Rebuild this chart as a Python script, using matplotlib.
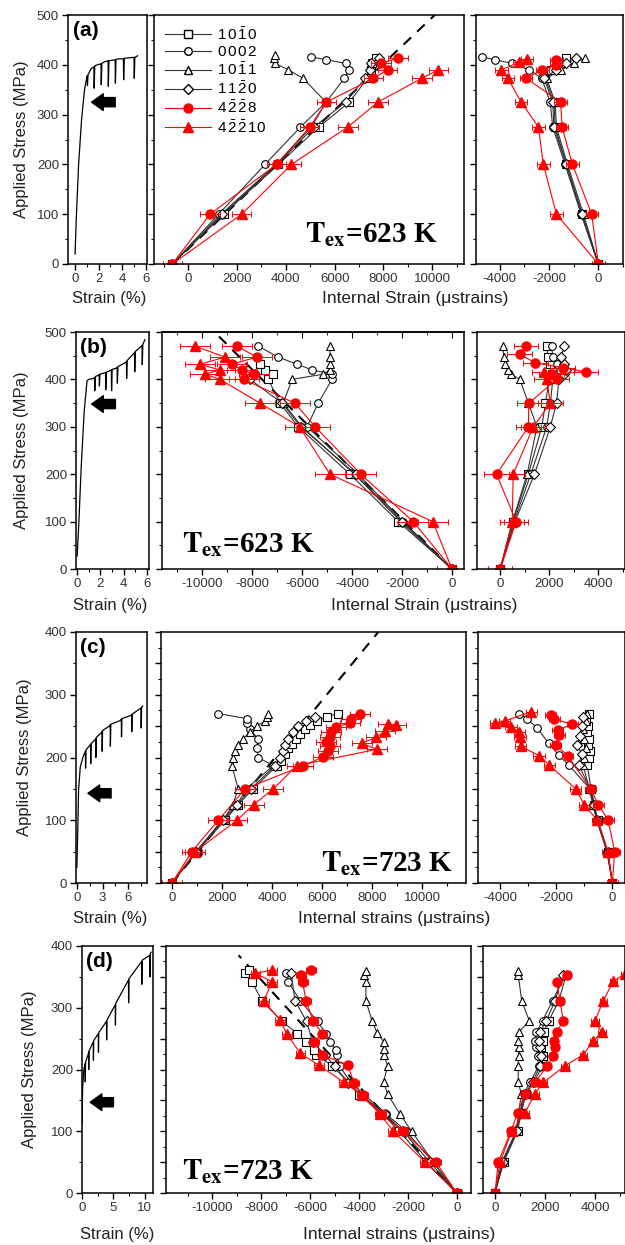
import matplotlib
matplotlib.use('Agg')
import matplotlib.pyplot as plt
from matplotlib.lines import Line2D
from matplotlib.ticker import MultipleLocator

plt.rcParams['font.family'] = ['Liberation Sans', 'DejaVu Sans']
plt.rcParams['axes.unicode_minus'] = False
plt.rcParams['mathtext.fontset'] = 'stix'
plt.rcParams['axes.linewidth'] = 1.1

# ---------------- (a) Tex = 623 K ----------------
a_curve_x = [0, 0.1, 0.3, 0.55, 0.8, 1.0, 1.03, 1.05, 1.1, 1.35, 1.6, 1.62, 1.67, 1.9, 2.2, 2.22, 2.27,
             2.5, 2.8, 2.82, 2.87, 3.1, 3.4, 3.42, 3.47, 3.8, 4.1, 4.12, 4.17, 4.6, 5.0, 5.02, 5.07, 5.3]
a_curve_y = [20, 90, 200, 290, 350, 375, 378, 358, 380, 392, 396, 353, 398, 400, 402, 360, 403,
             406, 408, 357, 408, 409, 410, 363, 411, 412, 412, 370, 413, 414, 415, 373, 415, 418]
a_fit_x = [-650, 10100]
a_fit_y = [0, 500]

a_lvl = [0, 100, 200, 275, 325, 373, 390, 403, 413]
a_mid_1010 = [-650, 1450, 3700, 5350, 6600, 7350, 7500, 7550, 7700]
a_mid_0002_y = [0, 100, 200, 275, 325, 373, 390, 403, 410, 416]
a_mid_0002 = [-650, 1250, 3150, 4600, 5650, 6400, 6600, 6450, 5650, 5050]
a_mid_1011_y = [0, 100, 200, 275, 325, 373, 390, 403, 413, 420]
a_mid_1011 = [-650, 1350, 3600, 5050, 5650, 4700, 4100, 3550, 3500, 3550]
a_mid_1120 = [-650, 1400, 3650, 5150, 6450, 7250, 7450, 7500, 7800]
a_mid_4228 = [-650, 900, 3620, 4980, 5660, 7590, 8170, 7900, 8590]
a_mid_42210_y = [0, 100, 200, 275, 325, 373, 390]
a_mid_42210 = [-650, 2190, 4230, 6540, 7770, 9575, 10250]

a_rt_1010 = [0, -650, -1300, -1750, -1800, -2150, -1900, -1500, -1300]
a_rt_0002 = [0, -700, -1350, -1850, -1950, -2300, -2800, -3500, -4200, -4700]
a_rt_1011 = [0, -600, -1250, -1700, -1750, -2100, -1500, -1000, -550]
a_rt_1120 = [0, -680, -1300, -1800, -1850, -2200, -1700, -1300, -900]
a_rt_4228_y = [0, 100, 200, 275, 325, 373, 390, 400, 410]
a_rt_4228 = [0, -270, -1050, -1470, -1530, -2930, -2270, -1730, -1700]
a_rt_42210_y = [0, 100, 200, 275, 325, 373, 390, 405, 412]
a_rt_42210 = [0, -1700, -2230, -2430, -3130, -3670, -3930, -3200, -2900]

# ---------------- (b) Tex = 623 K ----------------
b_curve_x = [0, 0.15, 0.35, 0.6, 0.85, 1.0, 1.4, 1.5, 1.52, 1.57, 1.85, 1.9, 1.92, 1.97, 2.4, 2.45, 2.47,
             2.52, 2.95, 2.97, 3.02, 3.4, 3.45, 3.47, 3.52, 4.2, 4.25, 4.27, 4.32, 4.9, 4.95, 4.97, 5.02,
             5.55, 5.6, 5.62, 5.67, 5.85]
b_curve_y = [27, 100, 215, 330, 397, 400, 402, 404, 376, 406, 409, 410, 386, 411, 414, 415, 378,
             415, 420, 376, 421, 424, 425, 392, 427, 436, 438, 402, 440, 455, 457, 416, 459,
             470, 472, 431, 474, 484]
b_fit_x = [0, -9500]
b_fit_y = [0, 500]

b_lvl = [0, 100, 200, 300, 350, 400, 411, 420, 432, 447, 470]
b_mid_1010_y = [0, 100, 200, 300, 350, 400, 411, 420, 432]
b_mid_1010 = [0, -2150, -4080, -6150, -6880, -7350, -7150, -7480, -7680]
b_mid_0002 = [0, -1950, -3750, -5800, -5350, -4800, -4800, -5600, -6200, -6950, -7750]
b_mid_1011 = [0, -2050, -3900, -6000, -6750, -6400, -5150, -4900, -4880, -4880, -4880]
b_mid_1120_y = [0, 100, 200, 300, 350, 400, 411, 420]
b_mid_1120 = [0, -2000, -3850, -6050, -6800, -8080, -7900, -8200]
b_mid_4228 = [0, -1550, -3650, -5470, -6290, -8330, -7930, -8400, -8810, -7810, -8590]
b_mid_42210 = [0, -770, -4880, -6100, -7680, -9280, -9880, -9300, -10080, -9080, -10270]

b_rt_1010 = [0, 520, 1150, 1700, 1850, 2000, 2100, 2200, 2050, 1950, 1900]
b_rt_0002 = [0, 560, 1250, 1900, 2050, 2150, 2350, 2450, 2300, 2150, 2100]
b_rt_1011 = [0, 500, 1100, 1500, 1150, 800, 450, 300, 200, 150, 100]
b_rt_1120 = [0, 600, 1400, 2050, 2300, 2400, 2600, 2700, 2600, 2500, 2600]
b_rt_4228_y = [0, 100, 200, 300, 350, 400, 411, 416, 425, 435, 453, 471]
b_rt_4228 = [0, 650, -150, 1150, 1170, 2300, 2100, 3500, 2550, 1440, 790, 1060]
b_rt_42210_y = [0, 100, 200, 300, 350, 400, 416]
b_rt_42210 = [0, 490, 530, 1350, 2050, 1900, 1800]

# ---------------- (c) Tex = 723 K ----------------
c_curve_x = [0, 0.1, 0.2, 0.4, 0.7, 1.0, 1.02, 1.07, 1.5, 1.6, 1.62, 1.67, 2.1, 2.2, 2.22, 2.27, 2.9,
             2.94, 2.96, 3.01, 3.8, 3.9, 3.92, 3.97, 5.1, 5.2, 5.22, 5.27, 6.3, 6.4, 6.42, 6.47,
             7.4, 7.5, 7.52, 7.57, 7.7]
c_curve_y = [25, 80, 148, 185, 200, 210, 183, 212, 219, 221, 190, 222, 228, 230, 200, 232, 240,
             242, 210, 243, 250, 252, 218, 253, 259, 261, 233, 262, 267, 268, 241, 269,
             278, 279, 247, 280, 282]
c_fit_x = [0, 8250]
c_fit_y = [0, 400]

c_mid_1010_y = [0, 50, 100, 125, 150, 187, 195, 205, 215, 222, 230, 238, 245, 252, 258, 265, 270]
c_mid_1010 = [0, 990, 2120, 2650, 3250, 4190, 4350, 4500, 4650, 4800, 4950, 5100, 5300, 5500, 5800, 6200, 6650]
c_mid_0002_y = [0, 50, 100, 125, 150, 187, 200, 215, 230, 245, 255, 262, 270]
c_mid_0002 = [0, 990, 1990, 2600, 2970, 4050, 3450, 3400, 3450, 3100, 3000, 2990, 1850]
c_mid_1011_y = [0, 50, 100, 125, 150, 187, 200, 210, 220, 230, 240, 250, 258, 265, 270]
c_mid_1011 = [0, 950, 2050, 2430, 2650, 2390, 2450, 2500, 2650, 2850, 3100, 3390, 3720, 3800, 3850]
c_mid_1120_y = [0, 50, 100, 125, 150, 187, 200, 210, 220, 230, 240, 250, 258, 265]
c_mid_1120 = [0, 970, 2050, 2600, 3150, 4120, 4300, 4420, 4500, 4650, 4850, 5050, 5350, 5700]
c_mid_4228_y = [0, 50, 100, 150, 187, 201, 210, 218, 225, 232, 240, 248, 255, 262, 270]
c_mid_4228 = [0, 790, 1850, 2920, 5250, 6050, 6250, 6300, 6150, 6300, 6350, 6550, 7100, 7150, 7500]
c_mid_42210_y = [0, 50, 100, 125, 150, 187, 213, 223, 232, 242, 251, 254]
c_mid_42210 = [0, 930, 2600, 3270, 4050, 4990, 8190, 7590, 8160, 8520, 8960, 8650]

c_rt_1010_y = [0, 50, 100, 125, 150, 188, 200, 210, 220, 230, 240, 250, 260, 270]
c_rt_1010 = [0, -160, -520, -640, -760, -900, -850, -800, -870, -850, -900, -880, -950, -850]
c_rt_0002_y = [0, 50, 100, 125, 150, 188, 204, 223, 247, 262, 270]
c_rt_0002 = [0, -180, -550, -680, -800, -1560, -1920, -2280, -2690, -3050, -3350]
c_rt_1011_y = [0, 50, 100, 125, 150, 188, 200, 215, 230, 245, 258, 270]
c_rt_1011 = [0, -200, -560, -700, -820, -1050, -1000, -950, -1000, -1050, -950, -900]
c_rt_1120_y = [0, 50, 100, 125, 150, 188, 205, 220, 235, 250, 265]
c_rt_1120 = [0, -170, -540, -660, -790, -1200, -1100, -1250, -1150, -1100, -1050]
c_rt_4228_y = [0, 50, 100, 125, 150, 203, 220, 236, 244, 253, 261, 268]
c_rt_4228 = [0, 80, -150, -500, -780, -1600, -2020, -1900, -1950, -1430, -2080, -2200]
c_rt_42210_y = [0, 50, 100, 125, 150, 188, 203, 218, 233, 241, 249, 255, 258, 273]
c_rt_42210 = [0, -170, -540, -1010, -1310, -2260, -2620, -3280, -3300, -3330, -3620, -4180, -3850, -2900]

# ---------------- (d) Tex = 723 K ----------------
d_curve_x = [0, 0.1, 0.3, 0.5, 0.52, 0.57, 1.0, 1.05, 1.07, 1.12, 1.8, 1.82, 1.87, 2.6, 2.62, 2.67,
             3.9, 3.92, 3.97, 5.3, 5.32, 5.37, 7.4, 7.42, 7.47, 9.5, 9.52, 9.57, 10.8, 10.82, 10.87, 11.0]
d_curve_y = [110, 170, 200, 210, 180, 212, 225, 228, 200, 230, 245, 215, 247, 258, 228, 260,
             278, 248, 280, 305, 272, 307, 345, 308, 347, 375, 338, 377, 385, 350, 387, 390]
d_fit_x = [0, -8930]
d_fit_y = [0, 385]

d_mid_1010_y = [0, 50, 100, 128, 159, 178, 206, 224, 232, 245, 258, 278, 311, 342, 356, 361]
d_mid_1010 = [0, -1250, -2350, -3030, -4000, -4400, -5100, -5770, -5850, -6180, -6530, -7150, -7970, -8380, -8650, -8500]
d_mid_0002_y = [0, 50, 100, 128, 159, 178, 206, 224, 232, 245, 258, 278, 311, 342, 356]
d_mid_0002 = [0, -970, -2070, -2890, -3780, -4330, -4800, -4900, -4950, -5200, -5350, -5700, -6400, -6900, -7000]
d_mid_1011_y = [0, 50, 100, 128, 160, 180, 205, 224, 234, 245, 259, 279, 311, 342, 353, 359]
d_mid_1011 = [0, -960, -1850, -2330, -2830, -3000, -2830, -2990, -3000, -2990, -3260, -3470, -3720, -3720, -3800, -3720]
d_mid_1120_y = [0, 50, 100, 128, 159, 178, 206, 224, 245, 278, 311, 356]
d_mid_1120 = [0, -1100, -2200, -2950, -3900, -4450, -5000, -5400, -5900, -6150, -6620, -6780]
d_mid_4228_y = [0, 50, 100, 128, 159, 178, 207, 224, 245, 258, 278, 311, 342, 353, 361]
d_mid_4228 = [0, -850, -2200, -3100, -3850, -4200, -4470, -5500, -5830, -5500, -5870, -6170, -6310, -6380, -5970]
d_mid_42210_y = [0, 50, 100, 128, 159, 179, 207, 226, 257, 280, 311, 342, 356, 361]
d_mid_42210 = [0, -1300, -2600, -3150, -3900, -4610, -5650, -6400, -6950, -7230, -7900, -7560, -8240, -7560]

d_rt_lvl = [0, 50, 100, 130, 161, 179, 206, 222, 237, 246, 260, 279, 311, 353]
d_rt_1010 = [0, 350, 900, 1050, 1250, 1550, 1900, 1900, 1850, 1900, 1950, 2150, 2550, 2850]
d_rt_0002 = [0, 300, 850, 1000, 1150, 1400, 1750, 1700, 1650, 1600, 1650, 1900, 2300, 2800]
d_rt_1011_y = [0, 50, 100, 130, 161, 179, 206, 222, 237, 246, 260, 279, 311, 353, 360]
d_rt_1011 = [0, 270, 850, 950, 1050, 930, 930, 950, 950, 930, 950, 1370, 1070, 930, 930]
d_rt_1120 = [0, 320, 870, 1020, 1200, 1500, 1800, 1850, 1800, 1750, 1800, 2050, 2400, 2700]
d_rt_4228_y = [0, 50, 100, 130, 161, 179, 205, 222, 237, 246, 260, 279, 311, 342, 353]
d_rt_4228 = [0, 130, 640, 900, 1200, 1600, 2070, 2330, 2400, 2350, 2470, 2730, 2600, 2470, 2870]
d_rt_42210_y = [0, 50, 100, 130, 161, 179, 206, 224, 246, 260, 279, 311, 343, 355]
d_rt_42210 = [0, 200, 670, 1200, 1600, 1930, 2800, 3530, 3930, 4270, 4000, 4330, 4730, 5200]

keys = ['1010', '0002', '1011', '1120', '4228', '42210']
labels = [r'$\mathregular{1\,0\,\bar{1}\,0}$', r'$\mathregular{0\,0\,0\,2}$',
          r'$\mathregular{1\,0\,\bar{1}\,1}$', r'$\mathregular{1\,1\,\bar{2}\,0}$',
          r'$\mathregular{4\,\bar{2}\,\bar{2}\,8}$', r'$\mathregular{4\,\bar{2}\,\bar{2}\,10}$']
marks = {'1010': 's', '0002': 'o', '1011': '^', '1120': 'D', '4228': 'o', '42210': '^'}

fig = plt.figure(figsize=(6.25, 12.45), dpi=100)
W, H = 625.0, 1245.0


def box(x0, x1, top, bot):
    return fig.add_axes([x0 / W, 1 - bot / H, (x1 - x0) / W, (bot - top) / H])


def setup(ax, xlim, ylim, xmaj, xmin, ymaj, ymin, ylab=False):
    ax.set_xlim(xlim)
    ax.set_ylim(ylim)
    ax.xaxis.set_major_locator(MultipleLocator(xmaj))
    ax.xaxis.set_minor_locator(MultipleLocator(xmin))
    ax.yaxis.set_major_locator(MultipleLocator(ymaj))
    ax.yaxis.set_minor_locator(MultipleLocator(ymin))
    ax.tick_params(which='major', length=4, width=1, labelsize=9.5, labelcolor='#333333', pad=2.5)
    ax.tick_params(which='minor', length=2.5, width=0.8)
    ax.tick_params(labelleft=ylab)


def lattice(ax, data, err):
    for k in keys[:4]:
        if k in data:
            x, y = data[k]
            ax.plot(x, y, color='#333333', lw=0.8, marker=marks[k],
                    ms=4.6 if k == '1120' else 5.5, mfc='white', mec='black', mew=0.8)
    for k in keys[4:]:
        x, y = data[k]
        ax.errorbar(x, y, xerr=err, color='red', lw=0.8, marker=marks[k], ms=6.5,
                    mfc='red', mec='red', ecolor='red', elinewidth=0.7, capsize=2, capthick=0.7)


rows = [
    dict(tag='(a)', top=15, bot=264, L=(68, 147), M=(154, 464), R=(476, 623), ymax=500, ymin=50,
         sx=(-0.6, 6.1), sxm=(2, 1), mx=(-1400, 11300), rx=(-4960, 1000),
         curve=(a_curve_x, a_curve_y), fit=(a_fit_x, a_fit_y),
         mid={'1010': (a_mid_1010, a_lvl), '0002': (a_mid_0002, a_mid_0002_y),
              '1011': (a_mid_1011, a_mid_1011_y), '1120': (a_mid_1120, a_lvl),
              '4228': (a_mid_4228, a_lvl), '42210': (a_mid_42210, a_mid_42210_y)},
         rt={'1010': (a_rt_1010, a_lvl), '0002': (a_rt_0002, a_mid_0002_y),
             '1011': (a_rt_1011, a_lvl), '1120': (a_rt_1120, a_lvl),
             '4228': (a_rt_4228, a_rt_4228_y), '42210': (a_rt_42210, a_rt_42210_y)},
         err=(400, 250), tex='623', tpos=(0.70, 0.115), arrow=(325, 1.4, 3.4),
         ylx=22, xly=299, sxl=109, ixl=415, itext='Internal Strain (μstrains)', toptick=False),
    dict(tag='(b)', top=332, bot=569, L=(76, 149), M=(162, 464), R=(477, 625), ymax=500, ymin=50,
         sx=(-0.1, 6.2), sxm=(2, 1), mx=(-11600, 480), rx=(-950, 5100),
         curve=(b_curve_x, b_curve_y), fit=(b_fit_x, b_fit_y),
         mid={'1010': (b_mid_1010, b_mid_1010_y), '0002': (b_mid_0002, b_lvl),
              '1011': (b_mid_1011, b_lvl), '1120': (b_mid_1120, b_mid_1120_y),
              '4228': (b_mid_4228, b_lvl), '42210': (b_mid_42210, b_lvl)},
         rt={'1010': (b_rt_1010, b_lvl), '0002': (b_rt_0002, b_lvl),
             '1011': (b_rt_1011, b_lvl), '1120': (b_rt_1120, b_lvl),
             '4228': (b_rt_4228, b_rt_4228_y), '42210': (b_rt_42210, b_rt_42210_y)},
         err=(600, 500), tex='623', tpos=(0.285, 0.10), arrow=(348, 1.25, 3.3),
         ylx=22, xly=605, sxl=110, ixl=424, itext='Internal Strain (μstrains)', toptick=True),
    dict(tag='(c)', top=632, bot=883, L=(76, 147), M=(161, 466), R=(478, 625), ymax=400, ymin=25,
         sx=(-0.1, 8.2), sxm=(3, 1.5), mx=(-440, 11760), rx=(-4800, 450),
         curve=(c_curve_x, c_curve_y), fit=(c_fit_x, c_fit_y),
         mid={'1010': (c_mid_1010, c_mid_1010_y), '0002': (c_mid_0002, c_mid_0002_y),
              '1011': (c_mid_1011, c_mid_1011_y), '1120': (c_mid_1120, c_mid_1120_y),
              '4228': (c_mid_4228, c_mid_4228_y), '42210': (c_mid_42210, c_mid_42210_y)},
         rt={'1010': (c_rt_1010, c_rt_1010_y), '0002': (c_rt_0002, c_rt_0002_y),
             '1011': (c_rt_1011, c_rt_1011_y), '1120': (c_rt_1120, c_rt_1120_y),
             '4228': (c_rt_4228, c_rt_4228_y), '42210': (c_rt_42210, c_rt_42210_y)},
         err=(400, 200), tex='723', tpos=(0.74, 0.075), arrow=(143, 1.3, 4.0),
         ylx=25, xly=919, sxl=110, ixl=394, itext='Internal strains (μstrains)', toptick=False),
    dict(tag='(d)', top=946, bot=1193, L=(82, 153), M=(166, 471), R=(483, 625), ymax=400, ymin=25,
         sx=(0, 11.3), sxm=(5, 2.5), mx=(-11900, 580), rx=(-480, 5200),
         curve=(d_curve_x, d_curve_y), fit=(d_fit_x, d_fit_y),
         mid={'1010': (d_mid_1010, d_mid_1010_y), '0002': (d_mid_0002, d_mid_0002_y),
              '1011': (d_mid_1011, d_mid_1011_y), '1120': (d_mid_1120, d_mid_1120_y),
              '4228': (d_mid_4228, d_mid_4228_y), '42210': (d_mid_42210, d_mid_42210_y)},
         rt={'1010': (d_rt_1010, d_rt_lvl), '0002': (d_rt_0002, d_rt_lvl),
             '1011': (d_rt_1011, d_rt_1011_y), '1120': (d_rt_1120, d_rt_lvl),
             '4228': (d_rt_4228, d_rt_4228_y), '42210': (d_rt_42210, d_rt_42210_y)},
         err=(200, 150), tex='723', tpos=(0.27, 0.085), arrow=(147, 1.3, 5.0),
         ylx=30, xly=1234, sxl=117, ixl=399, itext='Internal strains (μstrains)', toptick=False),
]

for r in rows:
    ymax = r['ymax']
    axl = box(r['L'][0], r['L'][1], r['top'], r['bot'])
    axm = box(r['M'][0], r['M'][1], r['top'], r['bot'])
    axr = box(r['R'][0], r['R'][1], r['top'], r['bot'])

    setup(axl, r['sx'], (0, ymax), r['sxm'][0], r['sxm'][1], 100, 50, ylab=True)
    setup(axm, r['mx'], (0, ymax), 2000, 1000, 50 if ymax == 400 else 100, r['ymin'])
    setup(axr, r['rx'], (0, ymax), 2000, 1000, 50 if ymax == 400 else 100, r['ymin'])
    if r['toptick']:
        sec = axm.secondary_xaxis('top')
        sec.xaxis.set_major_locator(MultipleLocator(2000))
        sec.xaxis.set_minor_locator(MultipleLocator(1000))
        sec.tick_params(which='both', direction='in', labeltop=False)
        sec.tick_params(which='major', length=4)
        sec.tick_params(which='minor', length=2.5)

    # macroscopic stress-strain curve
    axl.plot(r['curve'][0], r['curve'][1], color='black', lw=0.9)
    ay, ax0, ax1 = r['arrow']
    axl.annotate('', xy=(ax0, ay), xytext=(ax1, ay),
                 arrowprops=dict(arrowstyle='simple,head_length=0.7,head_width=1.0,tail_width=0.55',
                                 color='black', mutation_scale=12, shrinkA=0, shrinkB=0))
    axl.text(0.06, 0.975, r['tag'], transform=axl.transAxes, ha='left', va='top',
             fontsize=15, fontweight='bold')

    # lattice strains
    axm.plot(r['fit'][0], r['fit'][1], color='black', lw=1.5, ls=(0, (5, 4)), zorder=1)
    lattice(axm, {k: (v[0], v[1]) for k, v in r['mid'].items()}, r['err'][0])
    lattice(axr, {k: (v[0], v[1]) for k, v in r['rt'].items()}, r['err'][1])

    axm.text(r['tpos'][0], r['tpos'][1], r'$\mathbf{T_{ex}}$=' + r['tex'] + ' K',
             transform=axm.transAxes, ha='center', va='center', fontsize=21,
             family='Liberation Serif', fontweight='bold')

    yc = 1 - (r['top'] + r['bot']) / 2 / H
    fig.text(r['ylx'] / W, yc, 'Applied Stress (MPa)', rotation=90, ha='center', va='center',
             fontsize=12, color='#222222')
    fig.text(r['sxl'] / W, 1 - r['xly'] / H, 'Strain (%)', ha='center', va='center',
             fontsize=12, color='#222222')
    fig.text(r['ixl'] / W, 1 - r['xly'] / H, r['itext'], ha='center', va='center',
             fontsize=12.5, color='#222222')

    if r['tag'] == '(a)':
        handles = []
        for k in keys:
            if k in ('4228', '42210'):
                handles.append(Line2D([], [], color='red', lw=0.8, marker=marks[k], ms=6.5,
                                      mfc='red', mec='red'))
            else:
                handles.append(Line2D([], [], color='#333333', lw=0.8, marker=marks[k],
                                      ms=4.6 if k == '1120' else 5.5, mfc='white', mec='black'))
        axm.legend(handles, labels, loc='upper left', bbox_to_anchor=(0.0, 1.0), frameon=False,
                   fontsize=11, handlelength=3.0, labelspacing=0.15, handletextpad=0.4,
                   borderaxespad=0.3)

fig.savefig('out.png', dpi=100)
